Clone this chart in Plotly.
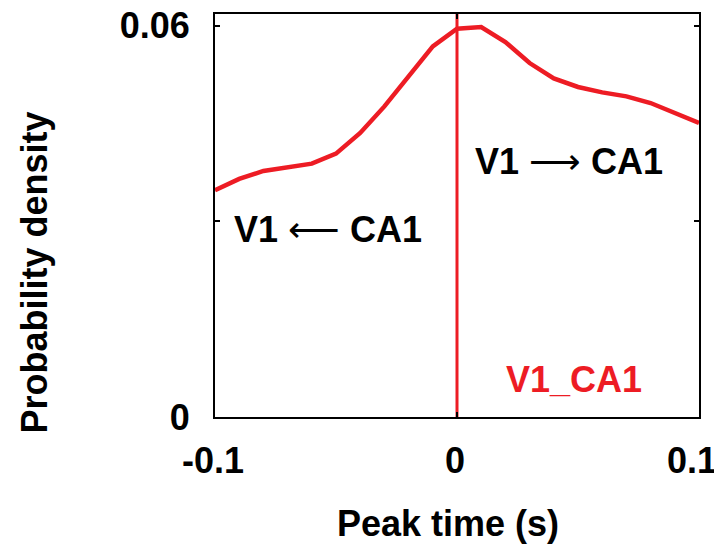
import plotly.graph_objects as go

# Data
peak_time = [-0.10, -0.09, -0.08, -0.07, -0.06, -0.05, -0.04, -0.03, -0.02, -0.01,
             0.00, 0.01, 0.02, 0.03, 0.04, 0.05, 0.06, 0.07, 0.08, 0.09, 0.10]
density = [0.03476, 0.03651, 0.03773, 0.03834, 0.03885, 0.04038, 0.04356, 0.04763,
           0.05234, 0.05683, 0.05954, 0.05980, 0.05750, 0.05428, 0.05193, 0.05061,
           0.04978, 0.04917, 0.04815, 0.04671, 0.04509]
marker_x = [0.0, 0.0]
marker_y = [0.0, 0.0618]
x_ticks = [-0.1, 0.0, 0.1]
x_tick_labels = ["-0.1", "0", "0.1\u00a0"]
y_ticks = [0.0, 0.03, 0.06]
y_tick_labels = ["0", "", "0.06"]

RED = "#ED1C24"
FONT = "Liberation Sans, Arial, sans-serif"

fig = go.Figure()
fig.add_trace(go.Scatter(x=peak_time, y=density, mode="lines",
                         line=dict(color=RED, width=4.5), showlegend=False))
fig.add_trace(go.Scatter(x=marker_x, y=marker_y, mode="lines",
                         line=dict(color=RED, width=3), showlegend=False))

axis_common = dict(showline=True, linecolor="black", linewidth=2, mirror="ticks",
                   ticks="inside", ticklen=5, tickwidth=1.5, tickcolor="black",
                   showgrid=False, zeroline=False, automargin=False,
                   ticklabeloverflow="allow",
                   tickfont=dict(family=FONT, size=36, color="black", weight="bold"))

fig.update_xaxes(range=[-0.1, 0.1], tickvals=x_ticks, ticktext=x_tick_labels,
                 ticklabelstandoff=11, ticklabelshift=-2, **axis_common)
fig.update_yaxes(range=[0, 0.0618], tickvals=y_ticks, ticktext=y_tick_labels,
                 ticklabelstandoff=16, **axis_common)

bold = dict(family=FONT, size=36, color="black", weight="bold")
fig.add_annotation(x=0.0066, y=0.0392, xref="x", yref="y", xanchor="left", yanchor="middle",
                   text="V1 <span style='font-weight:normal'>⟶</span> CA1",
                   showarrow=False, font=bold)
fig.add_annotation(x=-0.0931, y=0.0288, xref="x", yref="y", xanchor="left", yanchor="middle",
                   text="V1 <span style='font-weight:normal'>⟵</span> CA1",
                   showarrow=False, font=bold)
fig.add_annotation(x=0.0483, y=0.00575, xref="x", yref="y", xanchor="center", yanchor="middle",
                   text="V1_CA1", showarrow=False,
                   font=dict(family=FONT, size=36, color=RED, weight="bold"))
fig.add_annotation(x=-0.372, y=0.3586, xref="paper", yref="paper", xanchor="center", yanchor="middle",
                   text="Probability density", textangle=-90, showarrow=False, font=bold)
fig.add_annotation(x=0.4804, y=-0.2655, xref="paper", yref="paper", xanchor="center", yanchor="middle",
                   text="Peak time (s)", showarrow=False, font=bold)

# page body adds an 8px offset; size the figure to fill the remaining window
fig.update_layout(width=714, height=540,
                  margin=dict(l=207, r=23, t=6, b=131, autoexpand=False),
                  paper_bgcolor="white", plot_bgcolor="white")

fig.write_html("out.html")
